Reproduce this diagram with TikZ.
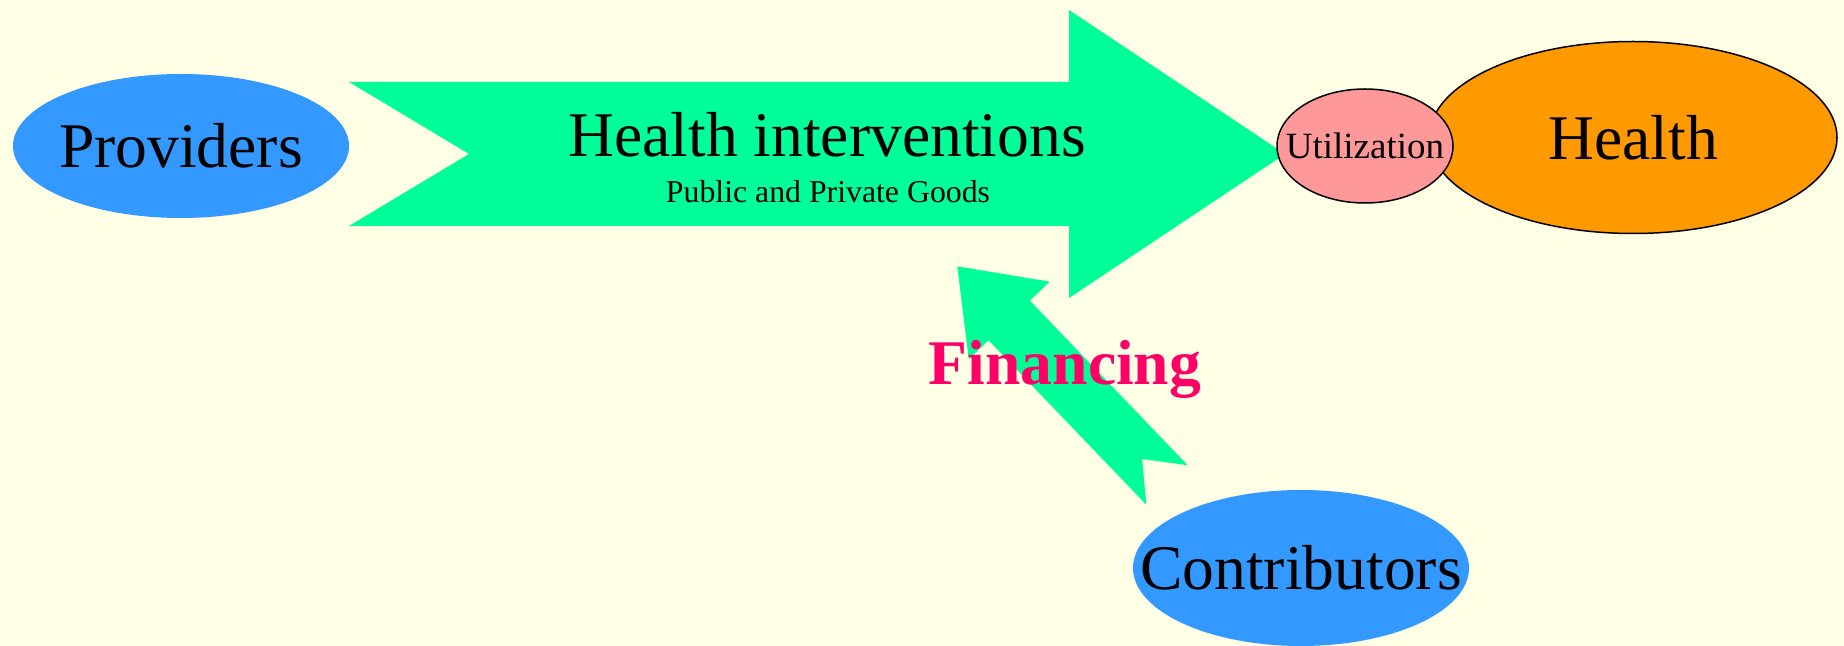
\documentclass[tikz,border=0pt]{standalone}
\usepackage{fontspec}
\setmainfont{Liberation Serif}
\usetikzlibrary{shapes.geometric}

\definecolor{paper}{RGB}{255,255,229}
\definecolor{actorblue}{RGB}{51,153,255}
\definecolor{flowgreen}{RGB}{0,255,153}
\definecolor{healthorange}{RGB}{255,153,0}
\definecolor{usepink}{RGB}{255,153,153}
\definecolor{finred}{RGB}{255,0,102}

\newcommand{\nowidth}[1]{\makebox[0pt]{#1}}

\begin{document}
\begin{tikzpicture}[x=0.5pt,y=-0.5pt,
    bigtext/.style={font=\fontsize{31.8}{38}\selectfont},
    actor/.style={ellipse,fill=actorblue,inner sep=0,bigtext},
    outcome/.style={ellipse,draw=black,line width=0.75pt,inner sep=0},
    flow/.style={fill=flowgreen}
]

\path[use as bounding box,fill=paper] (0,0) rectangle (1844,646);

% main flow: providers -> utilization
\fill[flow] (349,82) -- (1069,82) -- (1069,10) -- (1285,154)
    -- (1069,298) -- (1069,226) -- (349,226) -- (469,154) -- cycle;

% financing flow: contributors -> main flow
\coordinate (fintail) at (1167,485);
\begin{scope}[shift={(fintail)},rotate=133.8]
  \fill[flow] (0,28.6) -- (228,28.6) -- (228,56) -- (303,0)
      -- (228,-56) -- (228,-28.6) -- (0,-28.6) -- (36,0) -- cycle;
\end{scope}

\node[actor,minimum width=168pt,minimum height=72pt] (prov) at (181,146) {\nowidth{Providers}};
\node[actor,minimum width=168pt,minimum height=78pt] (contrib) at (1301,568) {\nowidth{Contributors}};

\node[outcome,fill=healthorange,bigtext,minimum width=204pt,minimum height=96pt]
    (health) at (1633,137.5) {\nowidth{Health}};
\node[outcome,fill=usepink,font=\fontsize{18.5}{22}\selectfont,
    minimum width=88pt,minimum height=57pt] (util) at (1365,146) {\nowidth{Utilization}};

\node[bigtext,anchor=base] (interv) at (827,157) {Health interventions};
\node[font=\fontsize{15.9}{19}\selectfont,anchor=base] (goods) at (828,203) {Public and Private Goods};

\node[bigtext,font=\fontsize{31.8}{38}\selectfont\bfseries,text=finred,anchor=base]
    (fin) at (1065,385) {Financing};

\end{tikzpicture}
\end{document}
